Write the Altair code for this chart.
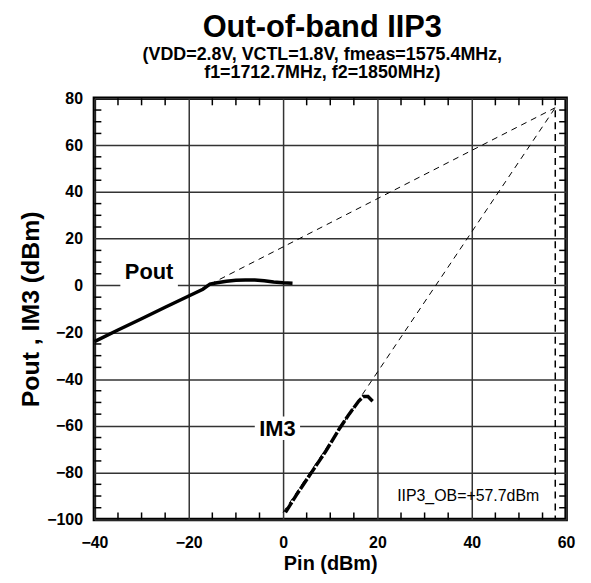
import altair as alt
import pandas as pd

FONT = "Liberation Sans"

# Measured Pout
pout_pin = [-40, -35, -30, -25, -20, -17, -15.5, -14, -12, -10, -8, -6, -4, -2, 0, 2]
pout_val = [-24, -19, -14.2, -9.3, -4.5, -1.6, 0.6, 1.2, 1.8, 2.2, 2.3, 2.3, 2.0, 1.5, 1.2, 1.0]

# Measured IM3
im3_pin = [0.5, 3, 6, 9, 12, 14, 16, 17, 18, 19]
im3_val = [-97, -89, -80, -71, -61, -55, -49.5, -47.5, -47.5, -49.5]

# Extrapolation lines
ext_pout_pin = [-15.5, 57.7]
ext_pout_val = [0.5, 76]
ext_im3_pin = [0, 57.7]
ext_im3_val = [-97, 76]

iip3 = 57.7

x_ticks = [-40, -20, 0, 20, 40, 60]
y_ticks = [80, 60, 40, 20, 0, -20, -40, -60, -80, -100]
x_minor = [-35, -30, -25, -15, -10, -5, 5, 10, 15, 25, 30, 35, 45, 50, 55]
y_minor = [75, 70, 65, 55, 50, 45, 35, 30, 25, 15, 10, 5, -5, -10, -15, -25, -30,
           -35, -45, -50, -55, -65, -70, -75, -85, -90, -95]

# Annotations
label_text = ["Pout", "IM3"]
label_x = [-28.4, -1.2]
label_y = [0.5, -66.5]
label_box_x = [-34.5, -6]
label_box_x2 = [-22.3, 3.6]
label_box_y = [-1, -66]
label_box_y2 = [8, -56]

W, H = 475, 424

xs = alt.Scale(domain=[-40, 60], nice=False, zero=False)
ys = alt.Scale(domain=[-100, 80], nice=False, zero=False)

xax = alt.Axis(values=x_ticks, title="Pin (dBm)", grid=True, ticks=False, domain=False,
               labelPadding=15, titlePadding=3, format="d", labelFlush=False)
yax = alt.Axis(values=y_ticks, title="Pout , IM3 (dBm)", grid=True, ticks=False, domain=False,
               labelPadding=12, titlePadding=3, format="d", labelFlush=False)

pout_df = pd.DataFrame({"pin": pout_pin, "val": pout_val})
im3_df = pd.DataFrame({"pin": im3_pin, "val": im3_val})
ext_df = pd.DataFrame({
    "pin": ext_pout_pin + ext_im3_pin,
    "val": ext_pout_val + ext_im3_val,
    "s": ["pout", "pout", "im3", "im3"],
})

base_grid = alt.Chart(pd.DataFrame({"pin": [0], "val": [0]})).mark_point(opacity=0).encode(
    x=alt.X("pin:Q", scale=xs, axis=xax),
    y=alt.Y("val:Q", scale=ys, axis=yax),
)

ext = alt.Chart(ext_df).mark_line(color="black", strokeWidth=1, strokeDash=[6, 5]).encode(
    x=alt.X("pin:Q", scale=xs), y=alt.Y("val:Q", scale=ys), detail="s:N"
)

vline = alt.Chart(pd.DataFrame({"pin": [iip3]})).mark_rule(
    color="black", strokeWidth=1.5, strokeDash=[7, 5]
).encode(x=alt.X("pin:Q", scale=xs), y=alt.value(0), y2=alt.value(H))

pout_line = alt.Chart(pout_df).mark_line(color="black", strokeWidth=3.5).encode(
    x=alt.X("pin:Q", scale=xs), y=alt.Y("val:Q", scale=ys)
)
im3_line = alt.Chart(im3_df).mark_line(color="black", strokeWidth=3.5, strokeDash=[12, 2]).encode(
    x=alt.X("pin:Q", scale=xs), y=alt.Y("val:Q", scale=ys)
)

ann_df = pd.DataFrame({
    "t": label_text, "x": label_x, "y": label_y,
    "bx": label_box_x, "bx2": label_box_x2, "by": label_box_y, "by2": label_box_y2,
})
boxes = alt.Chart(ann_df).mark_rect(color="white").encode(
    x=alt.X("bx:Q", scale=xs), x2="bx2:Q", y=alt.Y("by:Q", scale=ys), y2="by2:Q"
)
texts = alt.Chart(ann_df).mark_text(
    font=FONT, fontSize=22, fontWeight="bold", baseline="bottom", align="center", color="black"
).encode(x=alt.X("x:Q", scale=xs), y=alt.Y("y:Q", scale=ys), text="t:N")

iip_text = alt.Chart(pd.DataFrame({"x": [54.3], "y": [-90], "t": ["IIP3_OB=+57.7dBm"]})).mark_text(
    font=FONT, fontSize=16, align="right", baseline="middle", color="black"
).encode(x=alt.X("x:Q", scale=xs), y=alt.Y("y:Q", scale=ys), text="t:N")

# minor ticks inside the frame
xt_df = pd.DataFrame({"pin": x_minor})
yt_df = pd.DataFrame({"val": y_minor})
tick_bot = alt.Chart(xt_df).mark_rule(color="black", strokeWidth=1.5).encode(
    x=alt.X("pin:Q", scale=xs), y=alt.value(H), y2=alt.value(H - 7))
tick_top = alt.Chart(xt_df).mark_rule(color="black", strokeWidth=1.5).encode(
    x=alt.X("pin:Q", scale=xs), y=alt.value(0), y2=alt.value(7))
tick_left = alt.Chart(yt_df).mark_rule(color="black", strokeWidth=1.5).encode(
    y=alt.Y("val:Q", scale=ys), x=alt.value(0), x2=alt.value(7))
tick_right = alt.Chart(yt_df).mark_rule(color="black", strokeWidth=1.5).encode(
    y=alt.Y("val:Q", scale=ys), x=alt.value(W), x2=alt.value(W - 7))

chart = alt.layer(
    base_grid, ext, vline, boxes, pout_line, im3_line, texts, iip_text,
    tick_bot, tick_top, tick_left, tick_right,
).properties(
    width=W, height=H,
    title=alt.TitleParams(
        text="Out-of-band IIP3",
        subtitle=["(VDD=2.8V, VCTL=1.8V, fmeas=1575.4MHz,", "f1=1712.7MHz, f2=1850MHz)"],
        font=FONT, fontSize=31, fontWeight="bold", color="black",
        subtitleFont=FONT, subtitleFontSize=18, subtitleFontWeight="bold", subtitleColor="black",
        subtitlePadding=2, subtitleLineHeight=19, anchor="middle", offset=7, dx=-8,
    ),
    padding={"left": 10, "top": 2, "right": 8, "bottom": 0},
).configure_view(
    stroke="black", strokeWidth=3.5
).configure_axis(
    labelFont=FONT, labelFontSize=16, labelFontWeight="bold", labelColor="black",
    titleFont=FONT, titleFontWeight="bold", titleColor="black",
    gridColor="#333333", gridWidth=1.5, gridOpacity=1,
).configure_axisX(titleFontSize=20).configure_axisY(titleFontSize=25)

chart.save("out.html", embed_options={"renderer": "svg", "actions": False})
